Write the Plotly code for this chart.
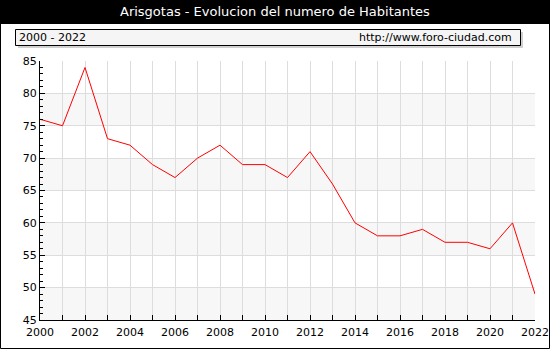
import plotly.graph_objects as go

# Population of Arisgotas, 2000-2022
years = list(range(2000, 2023))
habitantes = [76, 75, 84, 73, 72, 69, 67, 70, 72, 69, 69, 67, 71, 66,
              60, 58, 58, 59, 57, 57, 56, 60, 49]

title_text = "Arisgotas - Evolucion del numero de Habitantes"
range_text = "2000 - 2022"
url_text = "http://www.foro-ciudad.com"

W, H = 550, 350
ML, MR, MT, MB = 40, 15, 61, 30
PW, PH = W - ML - MR, H - MT - MB


def px_x(p):
    return (p - ML) / PW


def px_y(p):
    return 1 - (p - MT) / PH


FONT = "DejaVu Sans"

fig = go.Figure()
fig.add_trace(go.Scatter(x=years, y=habitantes, mode="lines",
                         line=dict(color="#ff0000", width=1),
                         hoverinfo="skip"))

shapes = []
# alternating light bands
for lo in (45, 55, 65, 75):
    shapes.append(dict(type="rect", xref="paper", yref="y", x0=0, x1=1,
                       y0=lo, y1=lo + 5, fillcolor="#f7f7f7",
                       line=dict(width=0), layer="below"))
# title bar
shapes.append(dict(type="rect", xref="paper", yref="paper",
                   x0=px_x(0), x1=px_x(W), y0=px_y(0), y1=px_y(24),
                   fillcolor="#000000", line=dict(width=0)))
# info box shadow and box
shapes.append(dict(type="rect", xref="paper", yref="paper",
                   x0=px_x(18), x1=px_x(523), y0=px_y(32), y1=px_y(48),
                   fillcolor="#d0d0d0", line=dict(width=0)))
shapes.append(dict(type="rect", xref="paper", yref="paper",
                   x0=px_x(15.5), x1=px_x(520.5), y0=px_y(29.5), y1=px_y(45.5),
                   fillcolor="#f5f5f5", line=dict(color="#000000", width=1)))
# outer frame
shapes.append(dict(type="rect", xref="paper", yref="paper",
                   x0=px_x(0.5), x1=px_x(W - 0.5), y0=px_y(0.5), y1=px_y(H - 1.5),
                   fillcolor="rgba(0,0,0,0)", line=dict(color="#000000", width=1)))

annotations = [
    dict(text=title_text, xref="paper", yref="paper", x=px_x(W / 2), y=px_y(12),
         xanchor="center", yanchor="middle", showarrow=False,
         font=dict(family=FONT, size=13, color="#ffffff")),
    dict(text=range_text, xref="paper", yref="paper", x=px_x(17), y=px_y(37.5),
         xanchor="left", yanchor="middle", showarrow=False,
         font=dict(family=FONT, size=11, color="#000000")),
    dict(text=url_text, xref="paper", yref="paper", x=px_x(514), y=px_y(37.5),
         xanchor="right", yanchor="middle", showarrow=False,
         font=dict(family=FONT, size=11, color="#000000")),
]

fig.update_layout(
    width=W, height=H, autosize=False,
    margin=dict(l=ML, r=MR, t=MT, b=MB, pad=0, autoexpand=False),
    paper_bgcolor="#ffffff", plot_bgcolor="#ffffff",
    showlegend=False,
    shapes=shapes, annotations=annotations,
    font=dict(family=FONT, size=11, color="#000000"),
)
fig.update_xaxes(range=[2000, 2022], dtick=2, tick0=2000,
                 showgrid=True, gridcolor="#dddddd", gridwidth=1,
                 ticks="inside", ticklen=5, tickcolor="#000000",
                 showline=True, linecolor="#000000", linewidth=1,
                 zeroline=False, automargin=False, ticklabelstandoff=2,
                 minor=dict(dtick=1, ticks="inside", ticklen=5, tickcolor="#000000",
                            showgrid=True, gridcolor="#dddddd", gridwidth=1),
                 tickfont=dict(family=FONT, size=11))
fig.update_yaxes(range=[45, 85], dtick=5, tick0=45,
                 showgrid=True, gridcolor="#dddddd", gridwidth=1,
                 ticks="inside", ticklen=5, tickcolor="#000000",
                 showline=True, linecolor="#000000", linewidth=1,
                 zeroline=False, automargin=False,
                 minor=dict(dtick=1, ticks="inside", ticklen=3, tickcolor="#000000",
                            showgrid=False),
                 tickfont=dict(family=FONT, size=11))

fig.write_html(
    "out.html",
    config={"responsive": False, "displayModeBar": False},
    post_script="document.body.style.margin='0';"
                "document.body.style.overflow='hidden';",
)
